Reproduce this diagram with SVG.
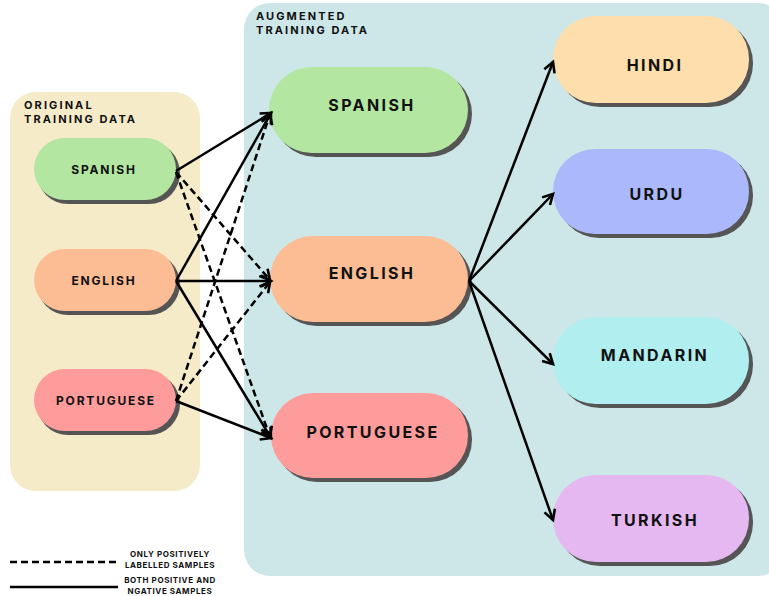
<svg xmlns="http://www.w3.org/2000/svg" width="769" height="596" viewBox="0 0 769 596">
<defs>
<marker id="ah" markerWidth="14" markerHeight="14" refX="11" refY="7" orient="auto" markerUnits="userSpaceOnUse">
<path d="M1,1.5 L11,7 L1,12.5" fill="none" stroke="#000" stroke-width="2.6"/>
</marker>
</defs>
<style>
text{font-family:"Inter","Liberation Sans",sans-serif;font-weight:bold;fill:#111}
.t{font-size:11px;letter-spacing:2.1px}
.s{font-size:12px;letter-spacing:1.8px;text-anchor:middle}
.m{font-size:16px;letter-spacing:2.4px;text-anchor:middle}
.l{font-size:8px;letter-spacing:0.6px;text-anchor:middle}
.sh{fill:#555}
.c{stroke:#000;stroke-width:2.5;fill:none;marker-end:url(#ah)}
.d{stroke-dasharray:7,4}
</style>
<rect width="769" height="596" fill="#fff"/>
<g id="original">
<rect x="10" y="92" width="190" height="399" rx="26" fill="#f5ebc9"/>
<text class="t" x="24" y="109">ORIGINAL</text>
<text class="t" x="24" y="122.5">TRAINING DATA</text>
</g>
<g id="augmented">
<rect x="244" y="3" width="540" height="573" rx="26" fill="#cde7e8"/>
<text class="t" x="256" y="20">AUGMENTED</text>
<text class="t" x="256" y="33.5">TRAINING DATA</text>
</g>
<g id="src-spanish"><rect class="sh" x="37" y="142" width="143" height="62" rx="31"/><rect x="34" y="138" width="142" height="62" rx="31" fill="#b3e6a0"/><text class="s" x="104" y="174">SPANISH</text></g>
<g id="src-english"><rect class="sh" x="37" y="253" width="143" height="62" rx="31"/><rect x="34" y="249" width="142" height="62" rx="31" fill="#fdbd94"/><text class="s" x="104" y="285">ENGLISH</text></g>
<g id="src-portuguese"><rect class="sh" x="37" y="373" width="143" height="62" rx="31"/><rect x="34" y="369" width="142" height="62" rx="31" fill="#fe9c9c"/><text class="s" x="106" y="405">PORTUGUESE</text></g>
<g id="aug-spanish"><rect class="sh" x="273" y="71" width="199" height="86" rx="43"/><rect x="269" y="67" width="199" height="86" rx="43" fill="#b3e6a0"/><text class="m" x="372" y="111">SPANISH</text></g>
<g id="aug-english"><rect class="sh" x="274" y="240" width="198" height="86" rx="43"/><rect x="270" y="236" width="198" height="86" rx="43" fill="#fdbd94"/><text class="m" x="372" y="279">ENGLISH</text></g>
<g id="aug-portuguese"><rect class="sh" x="275" y="397" width="197" height="85" rx="42"/><rect x="271" y="393" width="197" height="85" rx="42" fill="#fe9c9c"/><text class="m" x="373" y="438">PORTUGUESE</text></g>
<g id="hindi"><rect class="sh" x="557" y="20" width="196" height="87" rx="43"/><rect x="553" y="16" width="196" height="87" rx="43" fill="#fddeac"/><text class="m" x="655" y="71">HINDI</text></g>
<g id="urdu"><rect class="sh" x="557" y="153" width="196" height="85" rx="42"/><rect x="553" y="149" width="196" height="85" rx="42" fill="#abb9fc"/><text class="m" x="657" y="200">URDU</text></g>
<g id="mandarin"><rect class="sh" x="557" y="321" width="196" height="87" rx="43"/><rect x="553" y="317" width="196" height="87" rx="43" fill="#b0eef0"/><text class="m" x="655" y="361">MANDARIN</text></g>
<g id="turkish"><rect class="sh" x="557" y="479" width="196" height="87" rx="43"/><rect x="553" y="475" width="196" height="87" rx="43" fill="#e5b8f1"/><text class="m" x="655" y="526">TURKISH</text></g>
<g id="connectors">
<line class="c" x1="176" y1="171" x2="271" y2="113"/>
<line class="c" x1="176" y1="281" x2="271" y2="113"/>
<line class="c" x1="176" y1="281" x2="271" y2="281"/>
<line class="c" x1="176" y1="281" x2="271" y2="438"/>
<line class="c" x1="176" y1="401" x2="271" y2="438"/>
<line class="c d" x1="176" y1="172" x2="270" y2="280"/>
<line class="c d" x1="176" y1="172" x2="270" y2="437"/>
<line class="c d" x1="176" y1="401" x2="270" y2="114"/>
<line class="c d" x1="176" y1="401" x2="270" y2="282"/>
<line class="c" x1="469" y1="281" x2="553" y2="62"/>
<line class="c" x1="469" y1="281" x2="553" y2="194"/>
<line class="c" x1="469" y1="281" x2="553" y2="364"/>
<line class="c" x1="469" y1="281" x2="553" y2="520"/>
</g>
<g id="legend">
<line x1="10" y1="562" x2="118" y2="562" stroke="#000" stroke-width="2.5" stroke-dasharray="7,4"/>
<line x1="10" y1="587" x2="118" y2="587" stroke="#000" stroke-width="2.5"/>
<text class="l" x="170" y="557">ONLY POSITIVELY</text>
<text class="l" x="170" y="568">LABELLED SAMPLES</text>
<text class="l" x="170" y="583">BOTH POSITIVE AND</text>
<text class="l" x="170" y="594">NGATIVE SAMPLES</text>
</g>
</svg>
